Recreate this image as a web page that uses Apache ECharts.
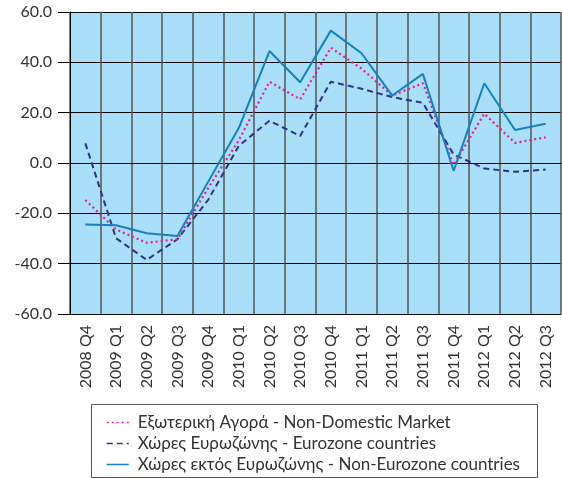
<!DOCTYPE html>
<html>
<head>
<meta charset="utf-8">
<script src="https://cdn.jsdelivr.net/npm/echarts@6/dist/echarts.min.js"></script>
<style>
  html, body { margin: 0; padding: 0; background: #fff; }
  #main { width: 562px; height: 478px; }
</style>
</head>
<body>
<div id="main"></div>
<script>
// カテゴリ（四半期）
var quarters = ['2008 Q4', '2009 Q1', '2009 Q2', '2009 Q3', '2009 Q4', '2010 Q1', '2010 Q2', '2010 Q3',
  '2010 Q4', '2011 Q1', '2011 Q2', '2011 Q3', '2011 Q4', '2012 Q1', '2012 Q2', '2012 Q3']
var nonDomestic = [-14.7, -26.4, -31.7, -30.3, -10, 9, 32.3, 25.3, 45.8, 37.5, 26.8, 31.7, -0.8, 19.6, 8, 10.2]
var eurozone = [7.8, -29.9, -38.5, -30.3, -14.7, 6.8, 16.8, 10.7, 32.3, 29.5, 26.2, 23.9, 3.4, -2.2, -3.5, -2.6]
var nonEurozone = [-24.4, -24.7, -27.9, -29, -7.5, 13.9, 44.5, 32.1, 52.6, 43.6, 26.8, 35.4, -3.1, 31.7, 13.1, 15.6]
var seriesNames = ['Εξωτερική Αγορά - Non-Domestic Market', 'Χώρες Ευρωζώνης - Eurozone countries',
  'Χώρες εκτός Ευρωζώνης - Non-Eurozone countries']

var chartDom = document.getElementById('main')
var myChart = echarts.init(chartDom)
var font = 'Lato'
var option = {
  animation: false,
  backgroundColor: '#fff',
  grid: { left: 70, right: 1, top: 12, bottom: 164, show: true, backgroundColor: '#a9dff8', borderWidth: 0 },
  graphic: [
    {
      type: 'rect',
      shape: { x: 91.5, y: 404.5, width: 446, height: 73 },
      style: { fill: 'none', stroke: '#555', lineWidth: 1 },
    },
  ],
  legend: {
    orient: 'vertical',
    left: 106,
    top: 414,
    itemWidth: 22,
    itemHeight: 14,
    itemGap: 4,
    padding: 0,
    itemStyle: { opacity: 0 },
    lineStyle: { width: 1.5 },
    textStyle: { fontSize: 17, color: '#333', fontFamily: font, padding: [0, 0, 0, 4] },
    data: seriesNames,
  },
  xAxis: {
    type: 'category',
    boundaryGap: true,
    data: quarters,
    axisTick: { show: false },
    axisLine: { lineStyle: { color: '#000', width: 1 } },
    splitLine: { show: true, interval: 0, lineStyle: { color: '#555', width: 1.5 } },
    axisLabel: { rotate: 90, interval: 0, margin: 11, fontSize: 16, color: '#333', fontFamily: font },
  },
  yAxis: {
    type: 'value',
    min: -60,
    max: 60,
    interval: 20,
    axisLine: { show: true, lineStyle: { color: '#000', width: 1 } },
    axisTick: { show: true, length: 12, lineStyle: { color: '#000' } },
    splitLine: { lineStyle: { color: '#000', width: 1 } },
    axisLabel: {
      fontSize: 16, color: '#333', margin: 18, fontFamily: font,
      formatter: function (v) { return v.toFixed(1) },
    },
  },
  series: [
    {
      name: seriesNames[0],
      type: 'line',
      symbol: 'none',
      z: 3,
      itemStyle: { color: '#ec1c8c' },
      lineStyle: { color: '#ec1c8c', width: 2.2, type: [2, 3] },
      data: nonDomestic,
    },
    {
      name: seriesNames[1],
      type: 'line',
      symbol: 'none',
      z: 2,
      itemStyle: { color: '#2e3192' },
      lineStyle: { color: '#2e3192', width: 2, type: [6, 4] },
      data: eurozone,
    },
    {
      name: seriesNames[2],
      type: 'line',
      symbol: 'none',
      z: 4,
      itemStyle: { color: '#1381c3' },
      lineStyle: { color: '#1381c3', width: 2 },
      data: nonEurozone,
    },
  ],
}
option && myChart.setOption(option)
</script>
</body>
</html>
